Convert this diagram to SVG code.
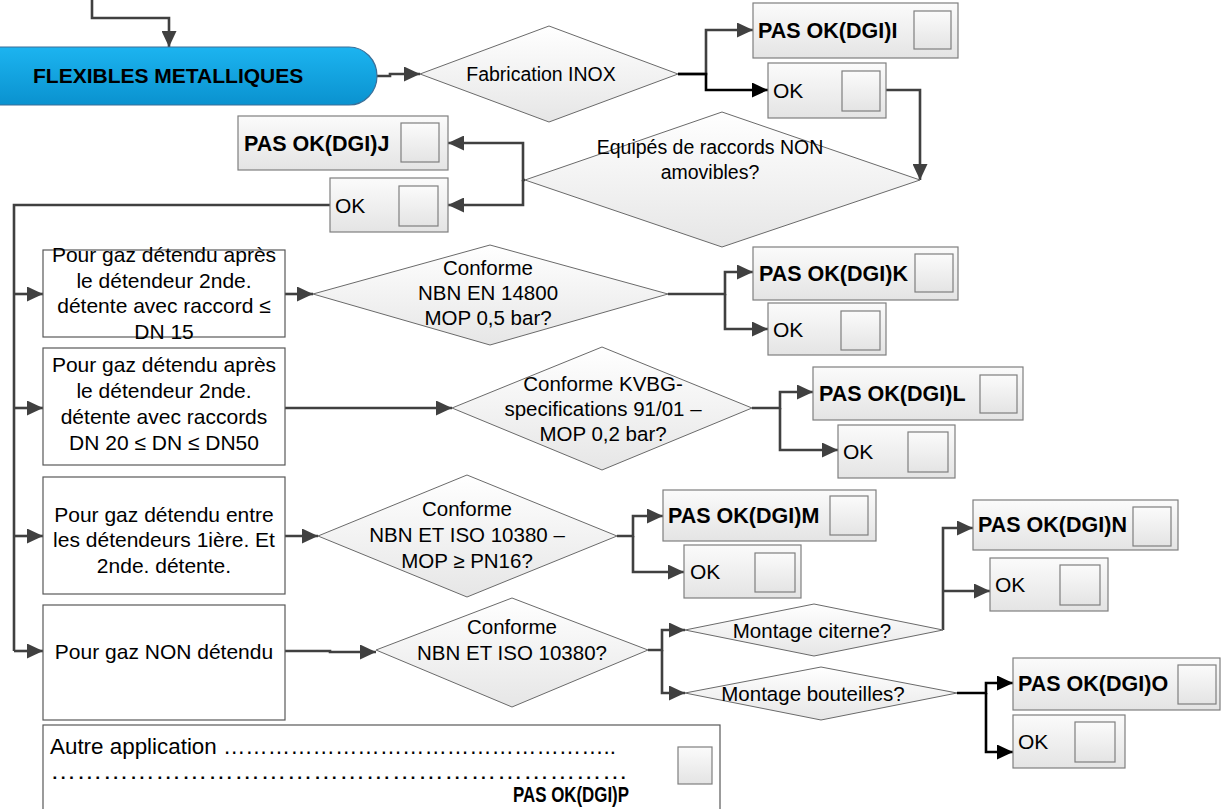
<svg xmlns="http://www.w3.org/2000/svg" width="1224" height="809" viewBox="0 0 1224 809">
<defs>
<linearGradient id="gPill" x1="0" y1="0" x2="0" y2="1"><stop offset="0" stop-color="#1cb4f0"/><stop offset="1" stop-color="#0a92cf"/></linearGradient>
<linearGradient id="gBox" x1="0" y1="0" x2="0" y2="1"><stop offset="0" stop-color="#fbfbfb"/><stop offset="1" stop-color="#e4e4e4"/></linearGradient>
<linearGradient id="gDia" x1="0" y1="0" x2="0" y2="1"><stop offset="0" stop-color="#ffffff"/><stop offset="1" stop-color="#e6e6e6"/></linearGradient>
<marker id="ar" markerUnits="userSpaceOnUse" markerWidth="17" markerHeight="15" refX="16" refY="7.5" orient="auto"><path d="M0,0 L16,7.5 L0,15 z" fill="#404040"/></marker>
<marker id="arb" markerUnits="userSpaceOnUse" markerWidth="17" markerHeight="15" refX="16" refY="7.5" orient="auto"><path d="M0,0 L16,7.5 L0,15 z" fill="#000"/></marker>
<style>
.t{font-family:"Liberation Sans",Arial,sans-serif;font-size:20.5px;fill:#000}
.tb{font-size:21px}
.b{font-family:"Liberation Sans",Arial,sans-serif;font-size:21.5px;font-weight:bold;fill:#000}
.m{text-anchor:middle}
.box{fill:url(#gBox);stroke:#7f7f7f;stroke-width:1.2}
.chk{fill:url(#gBox);stroke:#7f7f7f;stroke-width:1.2}
.dia{fill:url(#gDia);stroke:#6a6a6a;stroke-width:1}
.wb{fill:#fff;stroke:#595959;stroke-width:1.2}
.c{fill:none;stroke:#404040;stroke-width:2.6;marker-end:url(#ar)}
.cn{fill:none;stroke:#404040;stroke-width:2.6}
.k{fill:none;stroke:#000;stroke-width:2.6;marker-end:url(#arb)}
</style>
</defs>
<rect width="1224" height="809" fill="#fff"/>

<g id="connectors">
<path class="c" d="M92,0 V18 H169 V47"/>
<path class="c" d="M377,76 H390 V74 H420"/>
<path class="c" d="M678,74 H706 V30 H753"/>
<path class="k" d="M678,74 H706 V90 H768"/>
<path class="c" d="M886,90 H920 V180"/>
<path class="c" d="M525,180 H523 V143 H448"/>
<path class="c" d="M523,180 V205 H448"/>
<path class="cn" d="M330,205 H14 V651"/>
<path class="c" d="M14,294 H43"/>
<path class="c" d="M14,408 H43"/>
<path class="c" d="M14,536 H43"/>
<path class="c" d="M14,651 H43"/>
<path class="c" d="M285,294 H313"/>
<path class="c" d="M668,294 H725 V272 H753"/>
<path class="c" d="M725,294 V329 H768"/>
<path class="c" d="M285,408 H452"/>
<path class="c" d="M752,408 H780 V392 H813"/>
<path class="c" d="M780,408 V450 H838"/>
<path class="c" d="M285,536 H318"/>
<path class="c" d="M617,536 H633 V516 H663"/>
<path class="c" d="M633,536 V572 H684"/>
<path class="c" d="M285,651 H330 V652 H376"/>
<path class="c" d="M648,650 H662 V630 H685"/>
<path class="c" d="M662,650 V693 H685"/>
<path class="c" d="M943,630 V528 H973"/>
<path class="c" d="M943,591 H990"/>
<path class="k" d="M957,693 H986 V683 H1013"/>
<path class="k" d="M986,693 V752 H1013"/>
</g>

<g id="n-flexibles">
<path d="M-30,47 H349 A28,29 0 0 1 349,105 H-30 Z" fill="url(#gPill)" stroke="#3a6f98" stroke-width="1.2"/>
<text class="b" x="33" y="83" style="font-size:21px">FLEXIBLES METALLIQUES</text>
</g>

<g id="n-fabrication">
<polygon class="dia" points="420,74 549,26 678,74 549,122"/>
<text class="t m" x="541" y="81" style="font-size:19.5px">Fabrication INOX</text>
</g>

<g id="n-pasok-i">
<rect class="box" x="753" y="3" width="205" height="55"/>
<text class="b" x="758" y="38">PAS OK(DGI)I</text>
<rect class="chk" x="914" y="11" width="37" height="38"/>
</g>

<g id="n-ok-i">
<rect class="box" x="768" y="63" width="118" height="55"/>
<text class="t tb" x="773" y="98">OK</text>
<rect class="chk" x="842" y="71" width="38" height="40"/>
</g>

<g id="n-equipes">
<polygon class="dia" points="525,180 722,112 920,180 722,247"/>
<text class="t m" x="710" y="154" style="font-size:19.5px">Equipés de raccords NON</text>
<text class="t m" x="710" y="179" style="font-size:19.5px">amovibles?</text>
</g>

<g id="n-pasok-j">
<rect class="box" x="238" y="116" width="210" height="54"/>
<text class="b" x="244" y="151">PAS OK(DGI)J</text>
<rect class="chk" x="401" y="123" width="38" height="39"/>
</g>

<g id="n-ok-j">
<rect class="box" x="330" y="178" width="118" height="54"/>
<text class="t tb" x="335" y="213">OK</text>
<rect class="chk" x="399" y="186" width="39" height="40"/>
</g>

<g id="n-box1">
<rect class="wb" x="43" y="250" width="242" height="87"/>
<text class="t tb m" x="164" y="262">Pour gaz détendu après</text>
<text class="t tb m" x="164" y="288">le détendeur 2nde.</text>
<text class="t tb m" x="164" y="313">détente avec raccord  ≤</text>
<text class="t tb m" x="164" y="339">DN 15</text>
</g>

<g id="n-conf-k">
<polygon class="dia" points="313,294 490,245 668,294 490,345"/>
<text class="t m" x="488" y="275">Conforme</text>
<text class="t m" x="488" y="300">NBN EN 14800</text>
<text class="t m" x="488" y="325">MOP 0,5 bar?</text>
</g>

<g id="n-pasok-k">
<rect class="box" x="753" y="247" width="205" height="53"/>
<text class="b" x="759" y="281">PAS OK(DGI)K</text>
<rect class="chk" x="915" y="254" width="38" height="38"/>
</g>

<g id="n-ok-k">
<rect class="box" x="768" y="303" width="118" height="52"/>
<text class="t tb" x="773" y="337">OK</text>
<rect class="chk" x="841" y="311" width="39" height="39"/>
</g>

<g id="n-box2">
<rect class="wb" x="43" y="348" width="242" height="117"/>
<text class="t tb m" x="164" y="372">Pour gaz détendu après</text>
<text class="t tb m" x="164" y="398">le détendeur 2nde.</text>
<text class="t tb m" x="164" y="424">détente avec raccords</text>
<text class="t tb m" x="164" y="450">DN 20 ≤ DN ≤ DN50</text>
</g>

<g id="n-conf-l">
<polygon class="dia" points="452,408 602,347 752,408 602,470"/>
<text class="t m" x="603" y="391">Conforme KVBG-</text>
<text class="t m" x="603" y="416">specifications 91/01 –</text>
<text class="t m" x="603" y="441">MOP 0,2 bar?</text>
</g>

<g id="n-pasok-l">
<rect class="box" x="813" y="367" width="210" height="53"/>
<text class="b" x="819" y="401">PAS OK(DGI)L</text>
<rect class="chk" x="980" y="375" width="37" height="38"/>
</g>

<g id="n-ok-l">
<rect class="box" x="838" y="425" width="117" height="53"/>
<text class="t tb" x="843" y="459">OK</text>
<rect class="chk" x="908" y="432" width="40" height="40"/>
</g>

<g id="n-box3">
<rect class="wb" x="43" y="477" width="242" height="117"/>
<text class="t tb m" x="164" y="522">Pour gaz détendu entre</text>
<text class="t tb m" x="164" y="547">les détendeurs 1ière. Et</text>
<text class="t tb m" x="164" y="573">2nde. détente.</text>
</g>

<g id="n-conf-m">
<polygon class="dia" points="318,536 467,475 617,536 467,597"/>
<text class="t m" x="467" y="516">Conforme</text>
<text class="t m" x="467" y="542">NBN ET ISO 10380 –</text>
<text class="t m" x="467" y="568">MOP ≥ PN16?</text>
</g>

<g id="n-pasok-m">
<rect class="box" x="663" y="490" width="213" height="51"/>
<text class="b" x="668" y="523">PAS OK(DGI)M</text>
<rect class="chk" x="830" y="496" width="38" height="39"/>
</g>

<g id="n-ok-m">
<rect class="box" x="684" y="545" width="117" height="53"/>
<text class="t tb" x="690" y="579">OK</text>
<rect class="chk" x="755" y="553" width="40" height="39"/>
</g>

<g id="n-box4">
<rect class="wb" x="43" y="605" width="242" height="115"/>
<text class="t tb m" x="164" y="659">Pour gaz NON détendu</text>
</g>

<g id="n-conf-n">
<polygon class="dia" points="376,650 512,598 648,650 512,707"/>
<text class="t m" x="512" y="634">Conforme</text>
<text class="t m" x="512" y="660">NBN ET ISO 10380?</text>
</g>

<g id="n-citerne">
<polygon class="dia" points="685,630 814,604 943,630 814,656"/>
<text class="t m" x="812" y="638">Montage citerne?</text>
</g>

<g id="n-pasok-n">
<rect class="box" x="973" y="500" width="205" height="50"/>
<text class="b" x="978" y="532">PAS OK(DGI)N</text>
<rect class="chk" x="1133" y="507" width="38" height="39"/>
</g>

<g id="n-ok-n">
<rect class="box" x="990" y="558" width="118" height="53"/>
<text class="t tb" x="995" y="592">OK</text>
<rect class="chk" x="1060" y="565" width="40" height="40"/>
</g>

<g id="n-bouteilles">
<polygon class="dia" points="685,693 821,667 957,693 821,720"/>
<text class="t m" x="813" y="701">Montage bouteilles?</text>
</g>

<g id="n-pasok-o">
<rect class="box" x="1013" y="658" width="207" height="52"/>
<text class="b" x="1018" y="691">PAS OK(DGI)O</text>
<rect class="chk" x="1178" y="665" width="38" height="39"/>
</g>

<g id="n-ok-o">
<rect class="box" x="1013" y="715" width="112" height="53"/>
<text class="t tb" x="1018" y="749">OK</text>
<rect class="chk" x="1075" y="722" width="40" height="40"/>
</g>

<g id="n-autre">
<rect class="wb" x="43" y="725" width="677" height="90"/>
<text class="t" x="50" y="754" style="font-size:22px" textLength="566" lengthAdjust="spacingAndGlyphs">Autre application ……………………………………………..</text>
<text class="t" x="50" y="779" style="font-size:22px" textLength="578" lengthAdjust="spacingAndGlyphs">…………………………………………………………</text>
<text class="b" x="513" y="802" style="font-size:22px" textLength="116" lengthAdjust="spacingAndGlyphs">PAS OK(DGI)P</text>
<rect class="chk" x="678" y="747" width="34" height="37"/>
</g>
</svg>
